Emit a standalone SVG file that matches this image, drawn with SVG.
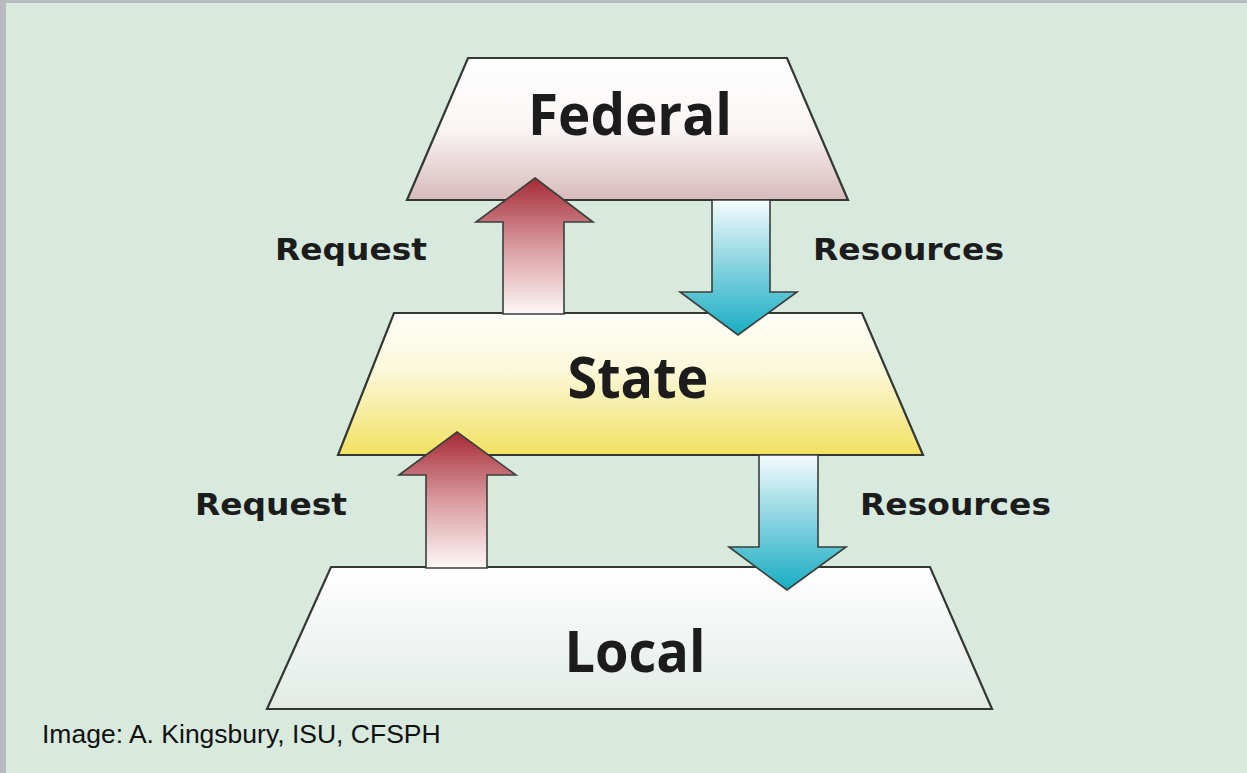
<svg xmlns="http://www.w3.org/2000/svg" width="1247" height="773" viewBox="0 0 1247 773">
<defs>
<linearGradient id="gFed" x1="0" y1="0" x2="0" y2="1">
<stop offset="0" stop-color="#ffffff"/><stop offset="0.5" stop-color="#faf5f5"/><stop offset="1" stop-color="#d8baba"/>
</linearGradient>
<linearGradient id="gState" x1="0" y1="0" x2="0" y2="1">
<stop offset="0" stop-color="#fefefa"/><stop offset="0.4" stop-color="#fbf8da"/><stop offset="1" stop-color="#f2e160"/>
</linearGradient>
<linearGradient id="gLocal" x1="0" y1="0" x2="0" y2="1">
<stop offset="0" stop-color="#ffffff"/><stop offset="1" stop-color="#e2ebe6"/>
</linearGradient>
<linearGradient id="gReq" x1="0" y1="0" x2="0" y2="1">
<stop offset="0" stop-color="#a52a35"/><stop offset="0.5" stop-color="#d99a9e"/><stop offset="1" stop-color="#fdf8f8"/>
</linearGradient>
<linearGradient id="gRes" x1="0" y1="0" x2="0" y2="1">
<stop offset="0" stop-color="#f6fcfd"/><stop offset="0.45" stop-color="#8fd6e2"/><stop offset="1" stop-color="#18adc2"/>
</linearGradient>
<style>
.tier{stroke:#333833;stroke-width:2.2;stroke-linejoin:miter}
.arrow{stroke:#3a3f3c;stroke-width:1.6;stroke-linejoin:miter}
.big{font-family:"Open Sans","DejaVu Sans",sans-serif;font-weight:bold;font-size:58px;fill:#1c1c1c;text-anchor:middle}
.lbl{font-family:"DejaVu Sans","Verdana",sans-serif;font-weight:bold;font-size:31px;fill:#1c1c1c}
.cap{font-family:"Liberation Sans",Arial,sans-serif;font-size:26.5px;fill:#111111}
</style>
</defs>
<rect x="0" y="0" width="1247" height="773" fill="#b6bbbf"/>
<rect x="6" y="3" width="1241" height="770" fill="#d8e9de"/>

<g id="federal">
<polygon class="tier" points="468,58 787,58 848,200 407,200" fill="url(#gFed)"/>
<text class="big" x="630" y="135" textLength="204" lengthAdjust="spacingAndGlyphs">Federal</text>
</g>
<g id="state">
<polygon class="tier" points="394,313 862,313 923,455 338,455" fill="url(#gState)"/>
<text class="big" x="638" y="398" textLength="141" lengthAdjust="spacingAndGlyphs">State</text>
</g>
<g id="local">
<polygon class="tier" points="331,567 930,567 992,709 267,709" fill="url(#gLocal)"/>
<text class="big" x="635" y="672" textLength="141" lengthAdjust="spacingAndGlyphs">Local</text>
</g>

<g id="connectors">
<polygon class="arrow" fill="url(#gReq)" points="535,178 593,222 564,222 564,314 503,314 503,222 476,222"/>
<polygon class="arrow" fill="url(#gRes)" points="712,200 770,200 770,292 797,292 738,335 680,292 712,292"/>
<polygon class="arrow" fill="url(#gReq)" points="457,432 516,475 487,475 487,568 426,568 426,475 399,475"/>
<polygon class="arrow" fill="url(#gRes)" points="759,455 818,455 818,547 846,547 787,590 729,547 759,547"/>
</g>

<g id="labels">
<text class="lbl" x="275" y="260" textLength="152" lengthAdjust="spacingAndGlyphs">Request</text>
<text class="lbl" x="813" y="260" textLength="191" lengthAdjust="spacingAndGlyphs">Resources</text>
<text class="lbl" x="195" y="515" textLength="152" lengthAdjust="spacingAndGlyphs">Request</text>
<text class="lbl" x="860" y="515" textLength="191" lengthAdjust="spacingAndGlyphs">Resources</text>
</g>

<text class="cap" x="42" y="743">Image: A. Kingsbury, ISU, CFSPH</text>
</svg>
